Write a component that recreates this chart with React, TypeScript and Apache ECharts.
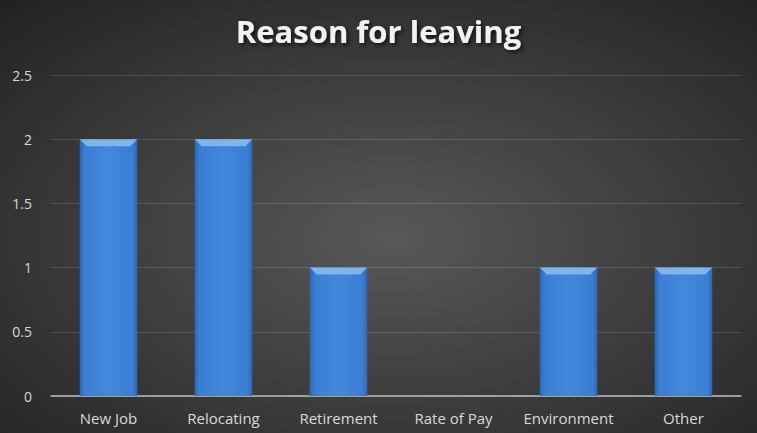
import React, { useEffect, useRef } from "react";
import * as echarts from "echarts";

const categories = ["New Job", "Relocating", "Retirement", "Rate of Pay", "Environment", "Other"];
const counts = [2, 2, 1, 0, 1, 1];
const yTicks = { min: 0, max: 2.5, interval: 0.5 };
const titleText = "Reason for leaving";

export default function App() {
  const ref = useRef<HTMLDivElement>(null);
  useEffect(() => {
    document.body.style.margin = "0";
    const chart = echarts.init(ref.current!, null, { renderer: "svg" });
    const font = "'Open Sans', Lato, sans-serif";
    chart.setOption({
      animation: false,
      backgroundColor: {
        type: "radial",
        x: 0.52,
        y: 0.55,
        r: 0.75,
        colorStops: [
          { offset: 0, color: "#585858" },
          { offset: 1, color: "#222222" },
        ],
      },
      title: {
        text: titleText,
        left: "center",
        top: 10,
        textStyle: {
          color: "#f2f2f2",
          fontSize: 31,
          fontWeight: "bold",
          fontFamily: font,
          textShadowColor: "rgba(0,0,0,0.7)",
          textShadowBlur: 4,
          textShadowOffsetX: 2,
          textShadowOffsetY: 2,
        },
      },
      grid: { left: 51, right: 16, top: 75, bottom: 37, containLabel: false },
      xAxis: {
        type: "category",
        data: categories,
        axisLine: { lineStyle: { color: "#bdbdbd", width: 1.5 } },
        axisTick: { show: false },
        axisLabel: { color: "#d9d9d9", fontSize: 15, fontFamily: font, margin: 14, interval: 0, hideOverlap: false },
      },
      yAxis: {
        type: "value",
        min: yTicks.min,
        max: yTicks.max,
        interval: yTicks.interval,
        axisLine: { show: false },
        axisTick: { show: false },
        axisLabel: { color: "#d9d9d9", fontSize: 14, fontFamily: font, margin: 19 },
        splitLine: { lineStyle: { color: "rgba(255,255,255,0.13)", width: 1 } },
      },
      series: [
        {
          type: "bar",
          data: counts,
          barWidth: "50%",
          itemStyle: {
            color: {
              type: "linear",
              x: 0,
              y: 0,
              x2: 1,
              y2: 0,
              colorStops: [
                { offset: 0, color: "#2c66b5" },
                { offset: 0.08, color: "#3a7ed3" },
                { offset: 0.5, color: "#4388dc" },
                { offset: 0.92, color: "#3a7ed3" },
                { offset: 1, color: "#2c66b5" },
              ],
            },
          },
        },
        {
          type: "custom",
          coordinateSystem: "cartesian2d",
          silent: true,
          z: 10,
          encode: { x: 0, y: 1 },
          data: counts.map((v, i) => [i, v]),
          renderItem: (params: any, api: any) => {
            const v = api.value(1);
            if (!v) return null;
            const top = api.coord([api.value(0), v]);
            const size = api.size([1, 0]);
            const w = size[0] * 0.5;
            const x0 = top[0] - w / 2;
            const x1 = top[0] + w / 2;
            const y = top[1];
            const b = 7;
            return {
              type: "polygon",
              shape: {
                points: [
                  [x0, y],
                  [x1, y],
                  [x1 - b, y + b],
                  [x0 + b, y + b],
                ],
              },
              style: { fill: "#7fb4ee" },
            };
          },
        },
      ],
    });
    return () => chart.dispose();
  }, []);
  return <div ref={ref} style={{ width: 757, height: 433 }} />;
}
